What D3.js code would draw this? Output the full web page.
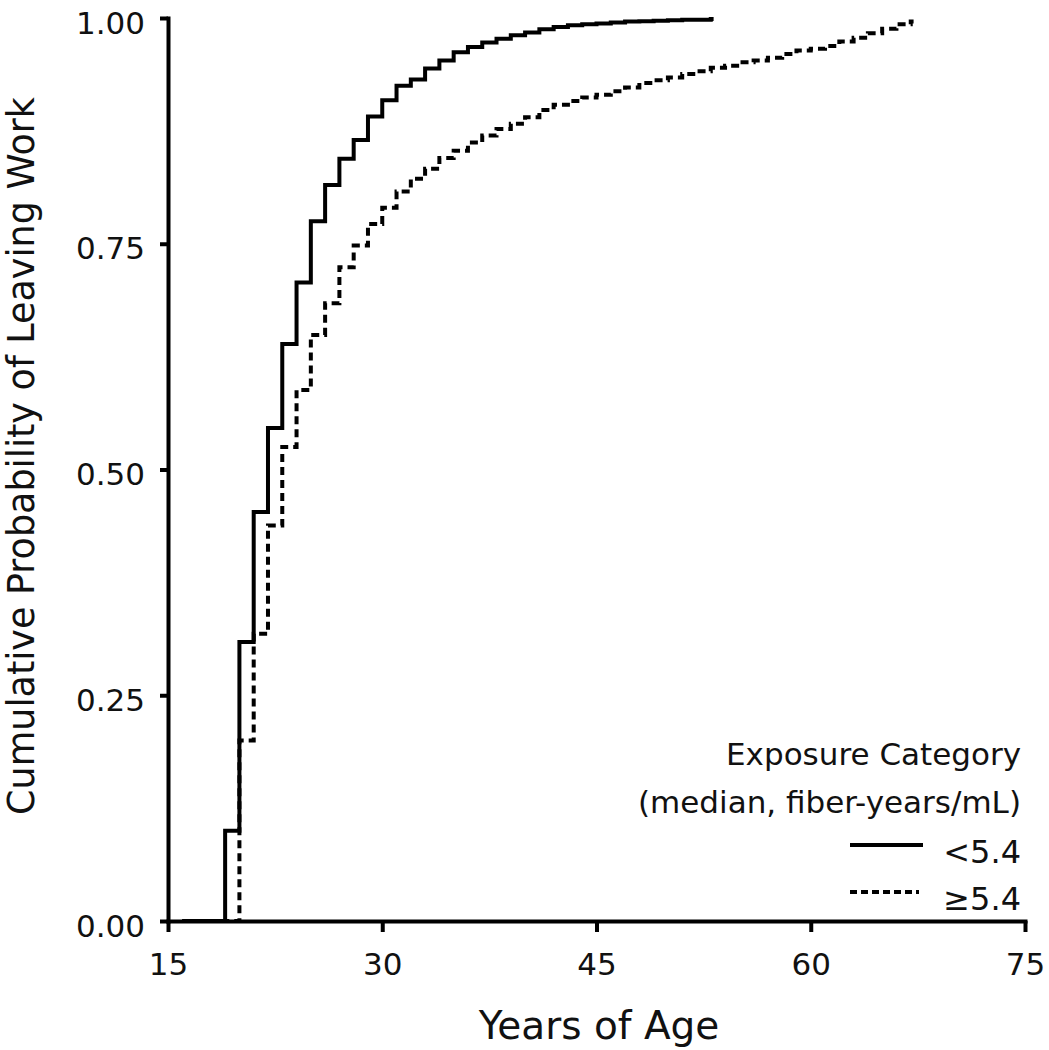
<!DOCTYPE html>
<html>
<head>
<meta charset="utf-8">
<script src="https://cdn.jsdelivr.net/npm/d3@7/dist/d3.min.js"></script>
<style>
  html, body { margin: 0; padding: 0; background: #fff; }
  svg { display: block; }
  text { font-family: "DejaVu Sans", Verdana, sans-serif; fill: #111; }
</style>
</head>
<body>
<svg id="chart" width="1049" height="1050"></svg>
<script>
// ---- Data ----
const xTicks = [15, 30, 45, 60, 75];
const yTicks = [0, 0.25, 0.5, 0.75, 1.0];
const yTickLabels = ["0.00", "0.25", "0.50", "0.75", "1.00"];

// Exposure < 5.4 fiber-years/mL (solid)
const lowAges = [16, 19, 20, 21, 22, 23, 24, 25, 26, 27, 28, 29, 30, 31, 32, 33, 34, 35, 36, 37, 38, 39, 40, 41, 42, 43, 44, 45, 46, 47, 48, 49, 50, 51, 52, 53];
const lowProb = [0, 0.100, 0.309, 0.453, 0.546, 0.639, 0.707, 0.775, 0.815, 0.844, 0.865, 0.891, 0.909, 0.925, 0.932, 0.944, 0.953, 0.962, 0.968, 0.973, 0.977, 0.981, 0.984, 0.9875, 0.990, 0.992, 0.993, 0.994, 0.995, 0.996, 0.9965, 0.997, 0.9975, 0.998, 0.998, 0.999];
const lowLastAge = 53.2;

// Exposure >= 5.4 fiber-years/mL (dashed)
const highAges = [16, 20, 21, 22, 23, 24, 25, 26, 27, 28, 29, 30, 31, 32, 33, 34, 35, 36, 37, 38, 39, 40, 41, 42, 43, 44, 45, 46, 47, 48, 49, 50, 51, 52, 53, 54, 55, 56, 57, 58, 59, 60, 61, 62, 63, 64, 65, 66, 67];
const highProb = [0, 0.200, 0.318, 0.438, 0.525, 0.588, 0.649, 0.684, 0.724, 0.748, 0.772, 0.790, 0.808, 0.822, 0.833, 0.845, 0.853, 0.862, 0.870, 0.877, 0.883, 0.890, 0.898, 0.904, 0.908, 0.912, 0.915, 0.919, 0.923, 0.928, 0.931, 0.934, 0.938, 0.941, 0.945, 0.947, 0.951, 0.953, 0.956, 0.960, 0.964, 0.966, 0.969, 0.974, 0.978, 0.983, 0.988, 0.993, 0.996];
const highLastAge = 67.2;

const legendTitle1 = "Exposure Category";
const legendTitle2 = "(median, fiber-years/mL)";
const legendLabels = ["<5.4", "\u22655.4"];
const xTitle = "Years of Age";
const yTitle = "Cumulative Probability of Leaving Work";

// ---- Layout ----
const svg = d3.select("#chart");
const x = d3.scaleLinear().domain([15, 75]).range([168, 1025]);
const y = d3.scaleLinear().domain([0, 1]).range([921, 18]);

// Axes
const yAxis = d3.axisLeft(y).tickValues(yTicks).tickSize(8).tickPadding(15)
  .tickSizeOuter(0).tickFormat((d, i) => yTickLabels[i]);
const gy = svg.append("g").attr("transform", "translate(168,0)").call(yAxis);
gy.selectAll("text").style("font-size", "31px").attr("dy", "0.49em");

const xAxis = d3.axisBottom(x).tickValues(xTicks).tickSize(11).tickPadding(10)
  .tickSizeOuter(0).tickFormat(d3.format("d"));
const gx = svg.append("g").attr("transform", "translate(0,921)").call(xAxis);
gx.selectAll("text").style("font-size", "31px").attr("dy", "1.07em");

svg.selectAll(".domain").attr("stroke", "#000").attr("stroke-width", 4).attr("stroke-linecap", "square");
svg.selectAll(".tick line").attr("stroke", "#000").attr("stroke-width", 4);

// Axis titles
svg.append("text").attr("x", 599).attr("y", 1039).attr("text-anchor", "middle")
  .style("font-size", "39px").text(xTitle);
svg.append("text").attr("transform", "translate(34,456) rotate(-90)").attr("text-anchor", "middle")
  .style("font-size", "36.5px").text(yTitle);

// Curves
const line = d3.line().x(d => x(d[0])).y(d => y(d[1])).curve(d3.curveStepAfter);
const lowPts = lowAges.map((a, i) => [a, lowProb[i]]);
lowPts.push([lowLastAge, lowProb[lowProb.length - 1]]);
const highPts = highAges.map((a, i) => [a, highProb[i]]);
highPts.push([highLastAge, highProb[highProb.length - 1]]);

svg.append("path").datum(highPts).attr("d", line)
  .attr("fill", "none").attr("stroke", "#000").attr("stroke-width", 4)
  .attr("stroke-dasharray", "8,5");
svg.append("path").datum(lowPts).attr("d", line)
  .attr("fill", "none").attr("stroke", "#000").attr("stroke-width", 4);

// Legend
const lg = svg.append("g");
lg.append("text").attr("x", 1021).attr("y", 765).attr("text-anchor", "end")
  .style("font-size", "31px").text(legendTitle1);
lg.append("text").attr("x", 1021).attr("y", 813).attr("text-anchor", "end")
  .style("font-size", "31px").text(legendTitle2);
lg.append("line").attr("x1", 850).attr("x2", 923).attr("y1", 845).attr("y2", 845)
  .attr("stroke", "#000").attr("stroke-width", 4);
lg.append("line").attr("x1", 850).attr("x2", 919).attr("y1", 892).attr("y2", 892)
  .attr("stroke", "#000").attr("stroke-width", 4).attr("stroke-dasharray", "7,4");
lg.append("text").attr("x", 1021).attr("y", 863).attr("text-anchor", "end")
  .style("font-size", "32px").text(legendLabels[0]);
lg.append("text").attr("x", 1021).attr("y", 910).attr("text-anchor", "end")
  .style("font-size", "32px").text(legendLabels[1]);
</script>
</body>
</html>
